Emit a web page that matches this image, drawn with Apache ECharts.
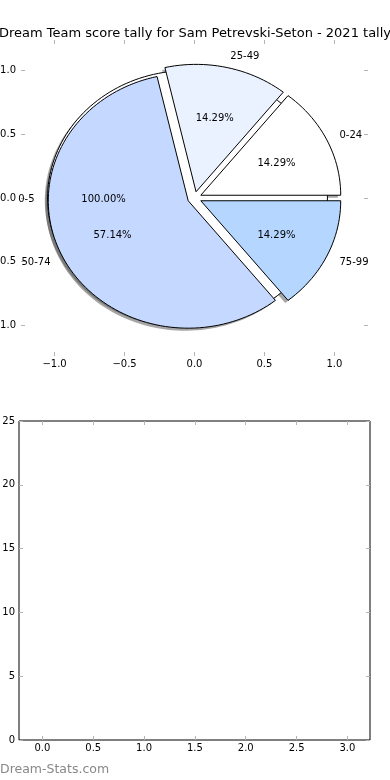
<!DOCTYPE html>
<html><head><meta charset="utf-8">
<script src="https://cdn.jsdelivr.net/npm/echarts@6/dist/echarts.min.js"></script>
<style>html,body{margin:0;padding:0;background:#fff}#c{width:390px;height:780px}</style>
</head><body><div id="c"></div>
<script>
// ---- data ----
const titleText = 'Dream Team score tally for Sam Petrevski-Seton - 2021 tally';
const sliceLabels = ['0-24', '25-49', '50-74', '75-99'];
const sliceValues = [1, 1, 4, 1];
const sliceExplode = [0.05, 0.05, 0.05, 0.05];
const bgLabels = ['0-5'];
const bgValues = [1];
const bgExplode = [0.05];
const pieTicks = [-1.0, -0.5, 0.0, 0.5, 1.0];
const barXTicks = [0.0, 0.5, 1.0, 1.5, 2.0, 2.5, 3.0];
const barYTicks = [0, 5, 10, 15, 20, 25];
const watermark = 'Dream-Stats.com';

// ---- styles ----
const sliceColors = ['#ffffff', '#eaf2ff', '#c5d8ff', '#b4d6ff'];
const bgColors = ['#ffffff'];
const FONT = 'DejaVu Sans';
const tickGrey = '#b4b4b4';

function fmt(v) { return v.toFixed(1).replace('-', '\u2212'); }

function buildWedges(values, explode) {
  const total = values.reduce((a, b) => a + b, 0);
  let acc = 0;
  return values.map((v, i) => {
    const a0 = acc / total * 360;
    acc += v;
    const a1 = acc / total * 360;
    const mid = (a0 + a1) / 2 * Math.PI / 180;
    return { a0, a1, cx: explode[i] * Math.cos(mid), cy: explode[i] * Math.sin(mid),
             mid, pct: v / total * 100 };
  });
}
const sliceW = buildWedges(sliceValues, sliceExplode);
const bgW = buildWedges(bgValues, bgExplode);

function wedgePoints(api, w, dx, dy) {
  const pts = [];
  const full = (w.a1 - w.a0) >= 359.999;
  if (!full) pts.push(api.coord([w.cx + dx, w.cy + dy]));
  const n = Math.max(8, Math.ceil((w.a1 - w.a0) / 2));
  for (let k = 0; k <= n; k++) {
    const a = (w.a0 + (w.a1 - w.a0) * k / n) * Math.PI / 180;
    pts.push(api.coord([w.cx + dx + Math.cos(a), w.cy + dy + Math.sin(a)]));
  }
  return pts;
}

function wedgeSeries(wedges, colors, shadow, z) {
  return {
    type: 'custom', coordinateSystem: 'cartesian2d', xAxisIndex: 0, yAxisIndex: 0,
    z: z, silent: true, clip: false,
    data: wedges.map(() => [0, 0]),
    renderItem: function (params, api) {
      const w = wedges[params.dataIndex];
      if (shadow) {
        return { type: 'polygon', shape: { points: wedgePoints(api, w, -0.02, -0.02) },
                 style: { fill: 'rgba(77,77,77,0.5)', stroke: 'none' } };
      }
      return { type: 'polygon', shape: { points: wedgePoints(api, w, 0, 0) },
               style: { fill: colors[params.dataIndex], stroke: '#000', lineWidth: 1 } };
    }
  };
}

function labelSeries(wedges, labels, z) {
  return {
    type: 'custom', coordinateSystem: 'cartesian2d', xAxisIndex: 0, yAxisIndex: 0,
    z: z, silent: true, clip: false,
    data: wedges.map(() => [0, 0]),
    renderItem: function (params, api) {
      const w = wedges[params.dataIndex];
      const c = Math.cos(w.mid), s = Math.sin(w.mid);
      const lp = api.coord([w.cx + 1.1 * c, w.cy + 1.1 * s]);
      const pp = api.coord([w.cx + 0.6 * c, w.cy + 0.6 * s]);
      const lx = w.cx + 1.1 * c;
      return { type: 'group', children: [
        { type: 'text', x: lp[0] + (lx > 0 ? 0 : 1), y: lp[1] + 1,
          style: { text: labels[params.dataIndex], fill: '#000', font: '10px "' + FONT + '"',
                   align: lx > 0 ? 'left' : 'right', verticalAlign: 'middle' } },
        { type: 'text', x: pp[0], y: pp[1] + 1.5,
          style: { text: w.pct.toFixed(2) + '%', fill: '#000', font: '10px "' + FONT + '"',
                   align: 'center', verticalAlign: 'middle' } }
      ] };
    }
  };
}

function mkAxis(gridIndex, pos, min, max, ticks, showLabel, fmtFn, margin) {
  return {
    type: 'value', gridIndex: gridIndex, position: pos, min: min, max: max,
    axisLine: { show: false, onZero: false }, splitLine: { show: false },
    axisTick: { show: true, inside: true, length: 4, customValues: ticks, lineStyle: { color: tickGrey, width: 1 } },
    axisLabel: { show: showLabel, customValues: ticks, formatter: fmtFn, margin: margin,
                 color: '#000', fontFamily: FONT, fontSize: 10 }
  };
}

const chart = echarts.init(document.getElementById('c'), null, { renderer: 'canvas' });
chart.setOption({
  animation: false,
  backgroundColor: '#fff',
  title: { text: titleText, left: 'center', top: 22,
           textStyle: { fontFamily: FONT, fontSize: 13, fontWeight: 'normal', color: '#000' } },
  graphic: [{ type: 'text', left: 0, top: 763,
              style: { text: watermark, fill: '#888', font: '12.5px "' + FONT + '"' } }],
  grid: [
    { left: 21, top: 40, width: 347, height: 316, show: false, containLabel: false, outerBoundsMode: 'none' },
    { left: 19, top: 421, width: 351, height: 319, show: true, borderColor: '#000', borderWidth: 1,
      backgroundColor: 'transparent', containLabel: false, outerBoundsMode: 'none' }
  ],
  xAxis: [
    mkAxis(0, 'bottom', -1.24, 1.24, pieTicks, true, v => fmt(v), 3),
    mkAxis(0, 'top', -1.24, 1.24, pieTicks, false, v => fmt(v), 3),
    mkAxis(1, 'bottom', -0.23, 3.222, barXTicks, true, v => fmt(v), 3),
    mkAxis(1, 'top', -0.23, 3.222, barXTicks, false, v => fmt(v), 3)
  ],
  yAxis: [
    mkAxis(0, 'left', -1.24, 1.24, pieTicks, true, v => fmt(v), 5),
    mkAxis(0, 'right', -1.24, 1.24, pieTicks, false, v => fmt(v), 5),
    mkAxis(1, 'left', 0, 25, barYTicks, true, v => String(v), 4),
    mkAxis(1, 'right', 0, 25, barYTicks, false, v => String(v), 4)
  ],
  series: [
    wedgeSeries(bgW, bgColors, true, 1),
    wedgeSeries(sliceW, sliceColors, true, 2),
    wedgeSeries(bgW, bgColors, false, 3),
    wedgeSeries(sliceW, sliceColors, false, 4),
    labelSeries(bgW, bgLabels, 5),
    labelSeries(sliceW, sliceLabels, 6)
  ]
});
</script></body></html>
